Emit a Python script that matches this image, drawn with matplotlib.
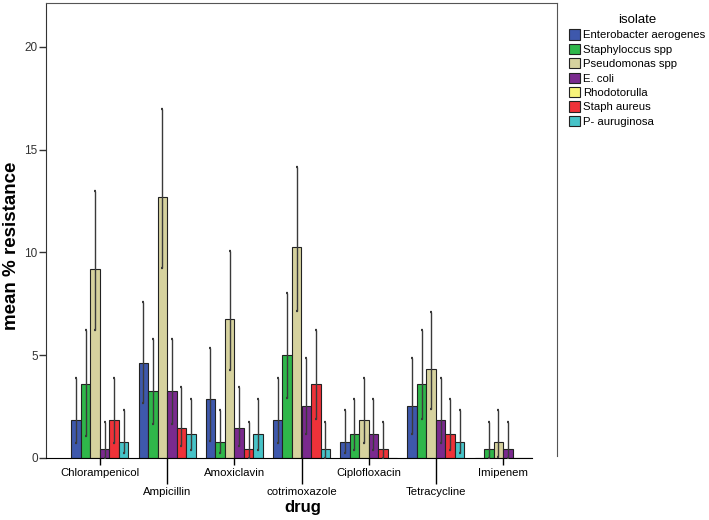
import numpy as np
import matplotlib.pyplot as plt
from matplotlib.patches import Patch

plt.rcParams['font.family'] = ['Liberation Sans', 'DejaVu Sans']

drugs = ['Chlorampenicol', 'Ampicillin', 'Amoxiclavin', 'cotrimoxazole',
         'Ciplofloxacin', 'Tetracycline', 'Imipenem']
isolates = ['Enterobacter aerogenes', 'Staphyloccus spp', 'Pseudomonas spp',
            'E. coli', 'Rhodotorulla', 'Staph aureus', 'P- auruginosa']
colors = ['#3E58AC', '#2FB74A', '#D6D29E', '#7A2A8E', '#F8F47A', '#EE3239', '#47C3C8']

# mean % resistance per isolate (None = no data, not drawn)
means = {
    'Enterobacter aerogenes': [1.85, 4.64, 2.89, 1.85, 0.79, 2.55, 0],
    'Staphyloccus spp':       [3.60, 3.24, 0.79, 5.01, 1.15, 3.60, 0.44],
    'Pseudomonas spp':        [9.21, 12.72, 6.76, 10.28, 1.85, 4.31, 0.79],
    'E. coli':                [0.42, 3.24, 1.48, 2.55, 1.15, 1.85, 0.44],
    'Rhodotorulla':           None,
    'Staph aureus':           [1.85, 1.48, 0.42, 3.60, 0.42, 1.15, 0],
    'P- auruginosa':          [0.79, 1.15, 1.15, 0.42, 0, 0.79, 0],
}
# error bar ends (lower, upper); None = no error bar
lower = {
    'Enterobacter aerogenes': [0.75, 2.66, 0.83, 0.75, 0.23, 1.15, None],
    'Staphyloccus spp':       [1.07, 1.65, 0.23, 2.90, 0.39, 1.88, 0],
    'Pseudomonas spp':        [6.23, 9.26, 4.28, 7.15, 0.75, 2.37, 0.05],
    'E. coli':                [0, 1.65, 0.58, 1.15, 0.39, 0.75, 0],
    'Staph aureus':           [0.75, 0.58, 0, 1.88, 0, 0.39, None],
    'P- auruginosa':          [0.24, 0.39, 0.39, 0, None, 0.23, None],
}
upper = {
    'Enterobacter aerogenes': [3.91, 7.58, 5.34, 3.91, 2.34, 4.85, None],
    'Staphyloccus spp':       [6.23, 5.79, 2.34, 8.01, 2.87, 6.23, 1.74],
    'Pseudomonas spp':        [13.0, 16.97, 10.07, 14.18, 3.91, 7.12, 2.34],
    'E. coli':                [1.74, 5.79, 3.44, 4.85, 2.87, 3.91, 1.74],
    'Staph aureus':           [3.91, 3.44, 1.74, 6.23, 1.74, 2.87, None],
    'P- auruginosa':          [2.34, 2.87, 2.87, 1.74, None, 2.34, None],
}

fig = plt.figure(figsize=(7.09, 5.2), dpi=100)
ax = fig.add_axes([46/709, 1-458/520, 511/709, 455/520])

x = np.arange(len(drugs))
shown = [s for s in isolates if means[s] is not None]
w = 0.1414
for k, s in enumerate(shown):
    pos = x + (k - (len(shown)-1)/2) * w
    c = colors[isolates.index(s)]
    ax.bar(pos, means[s], width=w, color=c, edgecolor='#222222', linewidth=0.8, zorder=2)
    for p, m, lo, hi in zip(pos, means[s], lower[s], upper[s]):
        if lo is None:
            continue
        ax.errorbar(p, m, yerr=[[m-lo], [hi-m]], fmt='none', ecolor='#3a3a3a',
                    elinewidth=1.0, capsize=0.8, capthick=1.6, zorder=3)

ax.set_xlim(-0.8, 6.8)
ax.set_ylim(0, 22.14)
ax.set_yticks([0, 5, 10, 15, 20])
ax.tick_params(axis='y', length=5, width=1, labelsize=8.5, colors='#333333', pad=1)

# staggered category labels
ax.set_xticks(x[::2], [drugs[i] for i in x[::2]])
ax.set_xticks(x[1::2], [drugs[i] for i in x[1::2]], minor=True)
ax.tick_params(axis='x', which='major', length=5, width=1, labelsize=8.2, pad=2)
ax.tick_params(axis='x', which='minor', length=19, width=1, labelsize=8.2, pad=2)

for sp in ['top', 'right']:
    ax.spines[sp].set_color('#555555')
ax.spines['left'].set_color('#333333')
ax.spines['bottom'].set_bounds(-0.8, 6.43)
ax.spines['right'].set_bounds(0.12, 22.14)

ax.set_ylabel('mean % resistance', fontsize=13.5, fontweight='bold')
ax.yaxis.set_label_coords(-0.05, 0.466)
ax.set_xlabel('drug', fontsize=12, fontweight='bold')
ax.xaxis.set_label_coords(0.502, -0.093)

handles = [Patch(facecolor=c, edgecolor='#222222', linewidth=0.8) for c in colors]
leg = fig.legend(handles, isolates, title='isolate', loc='upper left',
                 bbox_to_anchor=(561/709, 1-6/520), frameon=False, fontsize=8.2,
                 title_fontsize=9.5, handlelength=1.0, handleheight=1.0,
                 handletextpad=0.25, labelspacing=0.3, borderpad=0.2)

fig.savefig('out.png', dpi=100)
